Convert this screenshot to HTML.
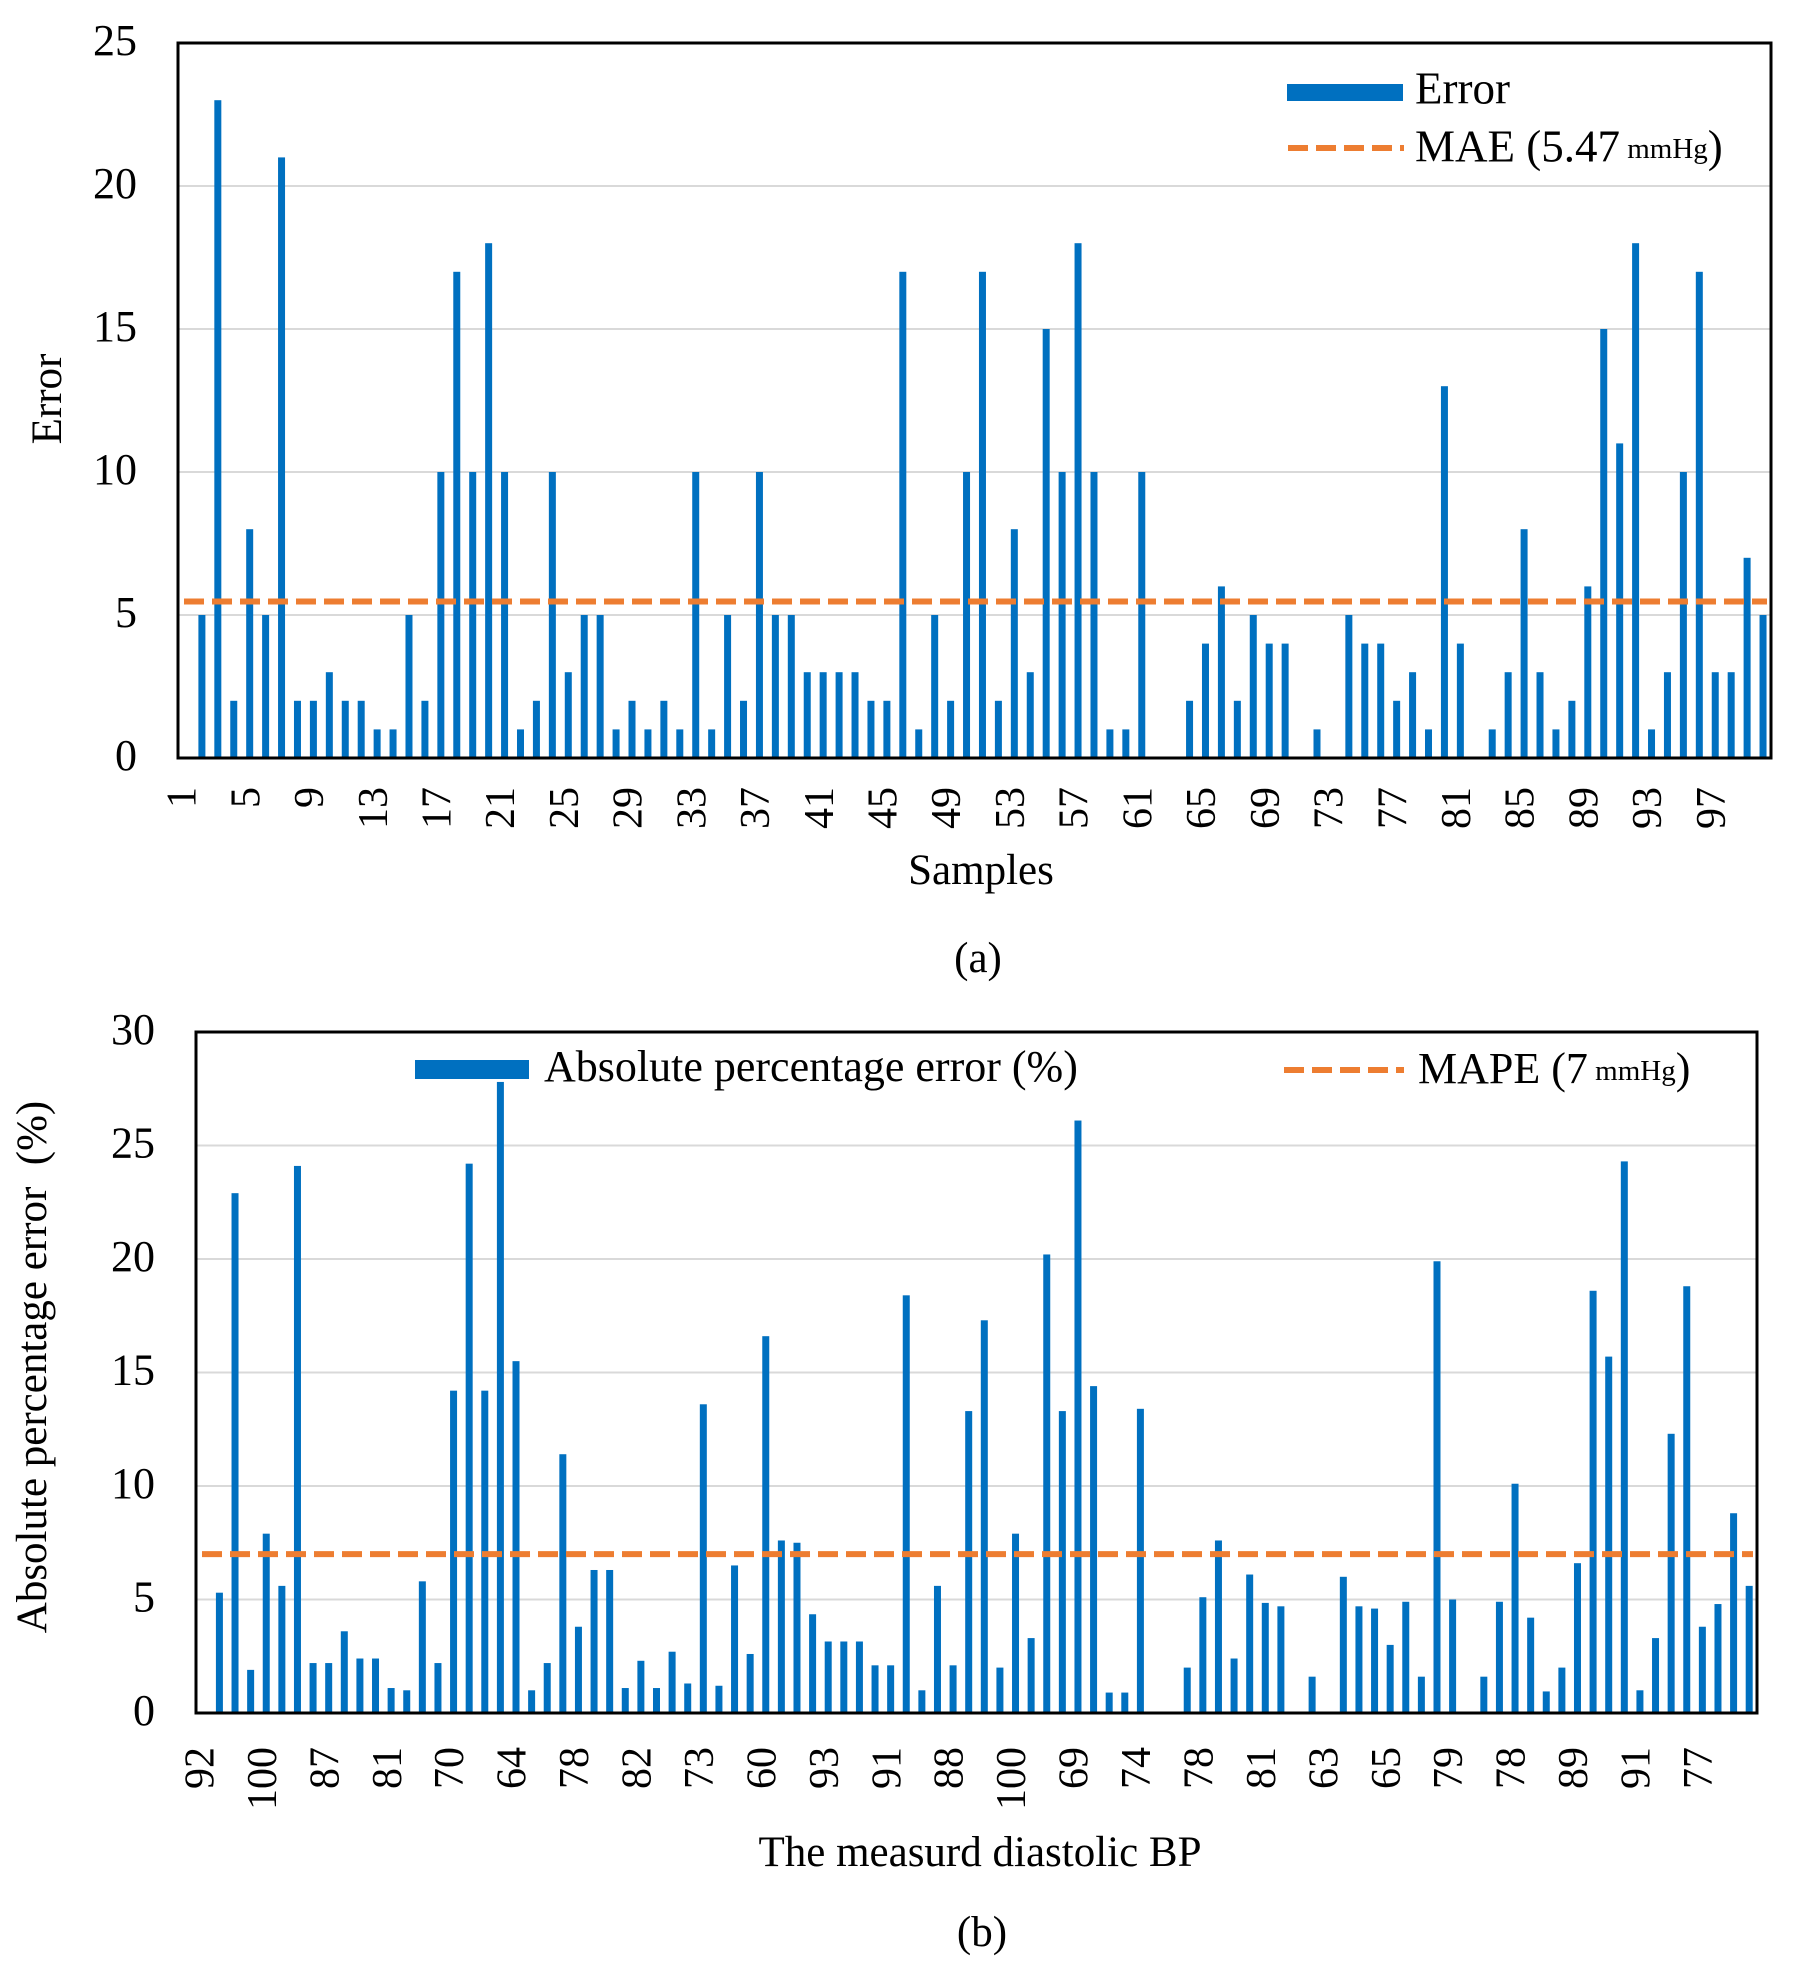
<!DOCTYPE html>
<html><head><meta charset="utf-8">
<style>
html,body{margin:0;padding:0;background:#fff;}
svg{display:block;font-family:"Liberation Serif",serif;}
</style></head>
<body>
<svg id="fig" width="1796" height="1984" viewBox="0 0 1796 1984" xmlns="http://www.w3.org/2000/svg">
  <g id="chartA"></g>
  <g id="chartB"></g>
  <text x="51" y="399" font-size="43" text-anchor="middle" dominant-baseline="middle" transform="rotate(-90 51 399)">Error</text>
  <text x="981" y="884" font-size="43" text-anchor="middle">Samples</text>
  <text x="978" y="972" font-size="43" text-anchor="middle">(a)</text>
  <text x="36" y="1367" font-size="43" text-anchor="middle" dominant-baseline="middle" transform="rotate(-90 36 1367)" xml:space="preserve">Absolute percentage error  (%)</text>
  <text x="980" y="1866" font-size="43" text-anchor="middle">The measurd diastolic BP</text>
  <text x="982" y="1946" font-size="43" text-anchor="middle">(b)</text>

  <rect x="1287" y="84" width="116" height="17" fill="#0070C0"/>
  <text x="1415" y="93" font-size="45" dominant-baseline="middle">Error</text>
  <line x1="1288" y1="148" x2="1404" y2="148" stroke="#ED7D31" stroke-width="6" stroke-dasharray="20 8"/>
  <text x="1415" y="151" font-size="45" dominant-baseline="middle">MAE (5.47<tspan font-size="29"> mmHg</tspan>)</text>

  <rect x="415" y="1060" width="114" height="19" fill="#0070C0"/>
  <text x="544" y="1071" font-size="44" dominant-baseline="middle">Absolute percentage error (%)</text>
  <line x1="1284" y1="1070" x2="1404" y2="1070" stroke="#ED7D31" stroke-width="6" stroke-dasharray="20 8"/>
  <text x="1418" y="1073" font-size="44" dominant-baseline="middle">MAPE (7<tspan font-size="29"> mmHg</tspan>)</text>
</svg>
<script>
const valuesA = [0,5,23,2,8,5,21,2,2,3,2,2,1,1,5,2,10,17,10,18,10,1,2,10,3,5,5,1,2,1,2,1,10,1,5,2,10,5,5,3,3,3,3,2,2,17,1,5,2,10,17,2,8,3,15,10,18,10,1,1,10,0,0,2,4,6,2,5,4,4,0,1,0,5,4,4,2,3,1,13,4,0,1,3,8,3,1,2,6,15,11,18,1,3,10,17,3,3,7,5];
const tickLabelsA = ["1","5","9","13","17","21","25","29","33","37","41","45","49","53","57","61","65","69","73","77","81","85","89","93","97"];
const yTicksA = [0,5,10,15,20,25];
const maeValue = 5.47;

const valuesB = [0,5.3,22.9,1.9,7.9,5.6,24.1,2.2,2.2,3.6,2.4,2.4,1.1,1.0,5.8,2.2,14.2,24.2,14.2,27.8,15.5,1.0,2.2,11.4,3.8,6.3,6.3,1.1,2.3,1.1,2.7,1.3,13.6,1.2,6.5,2.6,16.6,7.6,7.5,4.35,3.15,3.15,3.15,2.1,2.1,18.4,1.0,5.6,2.1,13.3,17.3,2.0,7.9,3.3,20.2,13.3,26.1,14.4,0.9,0.9,13.4,0,0,2.0,5.1,7.6,2.4,6.1,4.85,4.7,0,1.6,0,6.0,4.7,4.6,3.0,4.9,1.6,19.9,5.0,0,1.6,4.9,10.1,4.2,0.95,2.0,6.6,18.6,15.7,24.3,1.0,3.3,12.3,18.8,3.8,4.8,8.8,5.6];
const tickLabelsB = ["92","100","87","81","70","64","78","82","73","60","93","91","88","100","69","74","78","81","63","65","79","78","89","91","77"];
const yTicksB = [0,5,10,15,20,25,30];
const mapeValue = 7;

const NS = "http://www.w3.org/2000/svg";
function mk(tag, attrs, parent){
  const e = document.createElementNS(NS, tag);
  for (const k in attrs) e.setAttribute(k, attrs[k]);
  parent.appendChild(e);
  return e;
}

function drawChart(g, cfg){
  const {left,right,top,bottom,ymax,values,ticks,yTicks,ref,name,labelTop,labelStep} = cfg;
  const n = values.length;
  const step = (right-left)/n;
  const xs = i => left + (i+0.5)*step;
  const ys = v => bottom - v/ymax*(bottom-top);

  yTicks.forEach(t=>{
    if (t>0 && t<ymax){
      const gl = mk('line',{x1:left,x2:right,y1:ys(t),y2:ys(t),stroke:'#d9d9d9','stroke-width':2},g);
      
      
    }
    const tl = mk('text',{x:left-41,y:ys(t)+2,'font-size':44,'text-anchor':'end','dominant-baseline':'middle'},g);
    tl.textContent = t;
    
    
  });

  values.forEach((v,i)=>{
    if (v<=0) return;
    const b = mk('rect',{x:xs(i)-3.5,y:ys(v),width:7,height:bottom-ys(v),fill:'#0070C0'},g);
    
    
  });

  const rl = mk('line',{x1:left+6,x2:right-4,y1:ys(ref),y2:ys(ref),stroke:'#ED7D31','stroke-width':6,'stroke-dasharray':'20 8'},g);
  
  

  const fr = mk('rect',{x:left,y:top,width:right-left,height:bottom-top,fill:'none',stroke:'#000','stroke-width':3},g);
  
  

  ticks.forEach((lab,k)=>{
    const x = xs(k*labelStep);
    const t = mk('text',{x:x,y:labelTop,'font-size':42,'text-anchor':'end','dominant-baseline':'middle',transform:'rotate(-90 '+x+' '+labelTop+')'},g);
    t.textContent = lab;
    
    
  });
}

drawChart(document.getElementById('chartA'),{left:178,right:1771,top:43,bottom:758,ymax:25,values:valuesA,ticks:tickLabelsA,yTicks:yTicksA,ref:maeValue,name:'chart-a',labelTop:787,labelStep:4});
drawChart(document.getElementById('chartB'),{left:196,right:1757,top:1032,bottom:1713,ymax:30,values:valuesB,ticks:tickLabelsB,yTicks:yTicksB,ref:mapeValue,name:'chart-b',labelTop:1747,labelStep:4});
</script>
</body></html>
